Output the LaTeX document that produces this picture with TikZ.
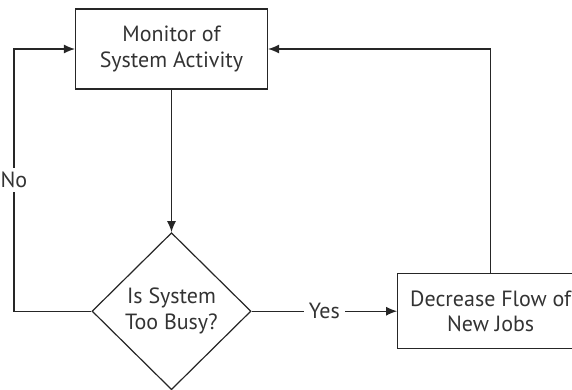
\documentclass[tikz,border=0pt]{standalone}
\usepackage{fontspec}
\setmainfont{PT Sans}
\usetikzlibrary{arrows.meta, positioning, shapes.geometric}

\begin{document}
\begin{tikzpicture}[>={Latex[length=11pt, width=9pt]}, x=1pt, y=1pt,
                    line width=1.2pt, draw=black!85, text=black!80,
                    font=\fontsize{22pt}{25.7pt}\selectfont,
                    box/.style={draw, align=center, inner sep=0pt}]

\useasboundingbox (0,0) rectangle (572,-389);

% Nodes
\node[box, minimum width=192pt, minimum height=80pt] (mon) at (171.5,-49)
  {Monitor of\\System Activity};
\node[box, diamond, below=142.5pt of mon, minimum width=159pt, minimum height=157pt] (busy)
  {Is System\\Too Busy?};
\node[box, right=145.5pt of busy, minimum width=186pt, minimum height=75pt] (dec)
  {Decrease Flow of\\New Jobs};

% Connections
\draw[->] (mon.south) -- (busy.north);
\draw[->] (busy.east) -- node[fill=white, inner sep=5pt] {Yes} (dec.west);
\draw[->] (busy.west) -- ++(-77.5,0) |- node[pos=0.25, fill=white, inner sep=4pt] {No} (mon.west);
\draw[->] (dec.north) |- (mon.east);

\end{tikzpicture}
\end{document}
